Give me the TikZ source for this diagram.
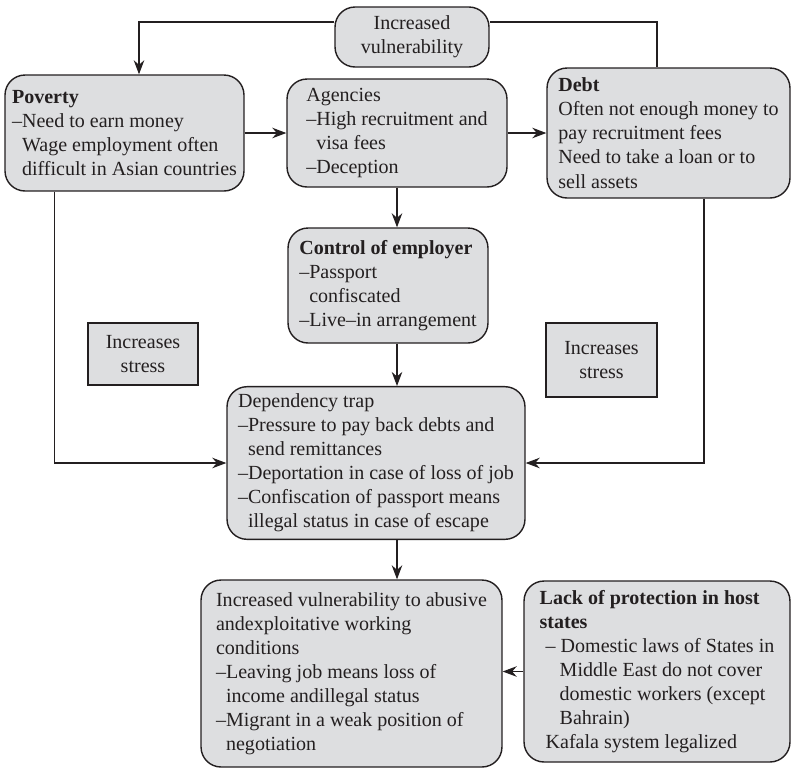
\documentclass[tikz,border=0pt]{standalone}
\usepackage{fontspec}
\setmainfont{Liberation Serif}
\usetikzlibrary{arrows.meta}
\definecolor{boxgray}{RGB}{221,222,224}
\definecolor{linedark}{RGB}{35,31,32}
\newcommand{\ind}{\phantom{–}}
\begin{document}
\begin{tikzpicture}[x=0.02cm, y=-0.02cm,
	every node/.style={font=\fontsize{11.4}{13.7}\selectfont, text=linedark},
	box/.style={draw=linedark, fill=boxgray, rounded corners=0.4cm, line width=0.8pt, align=left, inner sep=4pt},
	sbox/.style={draw=linedark, fill=boxgray, line width=0.8pt, align=center},
	link/.style={-{Stealth[length=8pt, width=6pt]}, draw=linedark, line width=0.6pt}]
	\useasboundingbox (0,0) rectangle (791,769);
	\node[box, align=center, minimum width=3.08cm, minimum height=1.2cm] (iv) at (412,37) {Increased\\vulnerability};
	\node[box, minimum width=4.78cm, minimum height=2.32cm] (poverty) at (124.5,133) {\textbf{Poverty}\\–Need to earn money\\\ind Wage employment often\\\ind difficult in Asian countries};
	\node[box, minimum width=4.4cm, minimum height=2.16cm] (agencies) at (397,133) {Agencies\\–High recruitment and\\\ind visa fees\\–Deception};
	\node[box, minimum width=4.86cm, minimum height=2.6cm] (debt) at (668.5,133) {\textbf{Debt}\\Often not enough money to\\pay recruitment fees\\Need to take a loan or to\\sell assets};
	\node[box, minimum width=4.0cm, minimum height=2.3cm] (control) at (388,285.5) {\textbf{Control of employer}\\–Passport\\\ind confiscated\\–Live–in arrangement};
	\node[sbox, minimum width=2.2cm, minimum height=1.24cm] (stressl) at (143,354) {Increases\\stress};
	\node[sbox, minimum width=2.22cm, minimum height=1.48cm] (stressr) at (601.5,360) {Increases\\stress};
	\node[box, minimum width=5.96cm, minimum height=3.04cm] (dep) at (376,463) {Dependency trap\\–Pressure to pay back debts and\\\ind send remittances\\–Deportation in case of loss of job\\–Confiscation of passport means\\\ind illegal status in case of escape};
	\node[box, minimum width=6.02cm, minimum height=3.74cm] (vuln) at (351.5,673.5) {Increased vulnerability to abusive\\andexploitative working\\conditions\\–Leaving job means loss of\\\ind income andillegal status\\–Migrant in a weak position of\\\ind negotiation};
	\node[box, minimum width=5.32cm, minimum height=3.62cm] (lack) at (657,671.5) {\textbf{Lack of protection in host}\\\textbf{states}\\\hspace*{0.3em}– Domestic laws of States in\\\hspace*{1em}Middle East do not cover\\\hspace*{1em}domestic workers (except\\\hspace*{1em}Bahrain)\\\hspace*{0.3em}Kafala system legalized};
	\draw[link] ([yshift=0.3cm]iv.west) -| ([xshift=0.29cm]poverty.north);
	\draw[draw=linedark, line width=0.6pt] ([yshift=0.3cm]iv.east) -| ([xshift=-0.23cm]debt.north);
	\draw[link] (poverty.east) -- (agencies.west);
	\draw[link] (agencies.east) -- (debt.west);
	\draw[link] (agencies.south) -- (agencies.south |- control.north);
	\draw[link] (agencies.south |- control.south) -- (agencies.south |- dep.north);
	\draw[link] ([xshift=-1.4cm]poverty.south) |- (dep.west);
	\draw[link] ([xshift=0.71cm]debt.south) |- (dep.east);
	\draw[link] (agencies.south |- dep.south) -- (agencies.south |- vuln.north);
	\draw[link] (lack.west) -- (lack.west -| vuln.east);
\end{tikzpicture}
\end{document}
